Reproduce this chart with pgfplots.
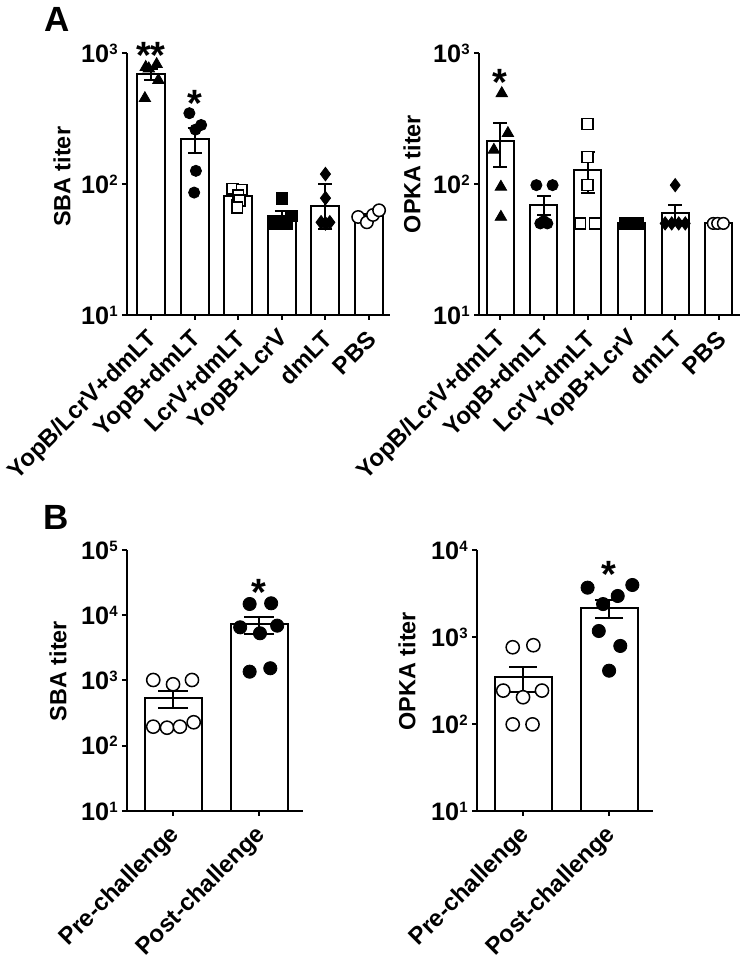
\documentclass[border=0pt]{standalone}
\usepackage{pgfplots}
\pgfplotsset{compat=1.18}
\usepackage{fontspec}
\setmainfont{Liberation Sans}
\newcommand\tpw[1]{10\raisebox{4pt}{\fontsize{7.5}{7.5}\selectfont\bfseries #1}}
\pgfplotsset{
  every axis/.append style={
    scale only axis,
    axis lines=left,
    axis line style={-, line width=1pt, black},
    tick style={line width=1pt, black},
    major tick length=2.5pt,
    tick align=outside,
    yminorticks=false,
    clip=false,
    yticklabel style={font=\fontsize{12.6}{14}\selectfont\bfseries, inner sep=1pt, xshift=-1pt},
    xticklabel style={xshift=2.2pt, yshift=-6.8pt, rotate=45, anchor=east, font=\fontsize{12}{13}\selectfont\bfseries, inner sep=1pt},
    ylabel style={font=\fontsize{11.7}{14}\selectfont\bfseries, anchor=center},
  },
}
\tikzset{
  bars/.style={ybar, fill=white, draw=black, line width=1pt},
  fm/.style={only marks, mark options={fill=black, draw=black, solid}},
  om/.style={only marks, mark options={fill=white, draw=black, line width=0.75pt, solid}},
  star/.style={font=\fontsize{19}{19}\selectfont\bfseries, anchor=base, inner sep=0pt, yshift=-11pt},
}
\newcommand\errplot[2]{\addplot[draw=none, mark=none, forget plot,
    error bars/y dir=both, error bars/y explicit,
    error bars/error bar style={draw=black, line width=1pt, solid},
    error bars/error mark options={rotate=90, mark size=#1, line width=1pt, draw=black}]
    coordinates {#2};}
\begin{document}
\begin{tikzpicture}[x=1pt,y=1pt]
\path[use as bounding box] (0,0) rectangle (372.5,480);
\node[font=\fontsize{17.5}{18}\selectfont\bfseries, inner sep=0pt] at (28.75,470.25) {A};
\node[font=\fontsize{17.5}{18}\selectfont\bfseries, inner sep=0pt] at (28.25,221.25) {B};

% ---------------- A left: SBA
\begin{axis}[ymode=log, log origin=infty, at={(63.5pt,322.5pt)}, anchor=south west,
  width=131.5pt, height=131pt, xmin=-0.55, xmax=5.48, ymin=10, ymax=1000,
  ytick={10,100,1000}, yticklabels={\tpw{1},\tpw{2},\tpw{3}},
  xtick={0,1,2,3,4,5},
  xticklabels={YopB/LcrV+dmLT,YopB+dmLT,LcrV+dmLT,YopB+LcrV,dmLT,PBS},
  ylabel={SBA titer}, ylabel style={at={(axis description cs:-0.247,0.527)}}]
\addplot[bars, bar width=14pt] coordinates {(0,686) (1,220) (2,81) (3,57) (4,68) (5,57)};
\addplot[fm, mark=triangle*, mark size=3.3pt] coordinates {(-0.12,780) (-0.05,760) (0.13,820) (0.17,620) (-0.14,451)};
\addplot[fm, mark=*, mark size=2.8pt] coordinates {(0.88,347) (1.15,282) (1.02,260) (1.03,126) (0.99,86)};
\addplot[om, mark=square*, mark size=2.7pt] coordinates {(1.87,92) (2.08,90) (2.0,82) (2.03,75) (1.98,66)};
\addplot[fm, mark=square*, mark size=2.9pt] coordinates {(3.0,78) (3.22,57) (2.8,50) (2.95,50) (3.1,50)};
\addplot[fm, mark=diamond*, mark size=3.4pt] coordinates {(4,119) (4,78) (3.9,51) (4.1,51) (4,50)};
\addplot[om, mark=*, mark size=3.1pt] coordinates {(4.75,56) (4.95,51) (5.09,58) (5.23,63)};
\errplot{3.5pt}{(0,686) +- (0,68) (1,220) +- (0,47) (2,81) +- (0,5) (3,57) +- (0,5.5) (4,68) += (0,32) -= (0,23) (5,57) +- (0,1.5)}
\node[star] at (axis cs:0,1117) {**};
\node[star] at (axis cs:1,478) {*};
\end{axis}

% ---------------- A right: OPKA
\begin{axis}[ymode=log, log origin=infty, at={(239.5pt,322.5pt)}, anchor=south west,
  width=130.5pt, height=131pt, xmin=-0.48, xmax=5.48, ymin=10, ymax=1000,
  ytick={10,100,1000}, yticklabels={\tpw{1},\tpw{2},\tpw{3}},
  xtick={0,1,2,3,4,5},
  xticklabels={YopB/LcrV+dmLT,YopB+dmLT,LcrV+dmLT,YopB+LcrV,dmLT,PBS},
  ylabel={OPKA titer}, ylabel style={at={(axis description cs:-0.257,0.538)}}]
\addplot[bars, bar width=13.5pt] coordinates {(0,214) (1,69.6) (2,129) (3,50) (4,59.6) (5,50)};
\addplot[fm, mark=triangle*, mark size=3.3pt] coordinates {(0.04,492) (0.18,244) (-0.14,182) (0.02,95) (0.02,56)};
\addplot[fm, mark=*, mark size=2.8pt] coordinates {(0.83,98) (1.2,98) (0.92,50) (1.0,52) (1.08,50)};
\addplot[om, mark=square*, mark size=2.7pt] coordinates {(2,287) (2,161) (2,98) (1.83,50) (2.17,50)};
\addplot[fm, mark=square*, mark size=2.9pt] coordinates {(2.86,50) (2.93,50) (3.0,50) (3.07,50) (3.14,50)};
\addplot[fm, mark=diamond*, mark size=3.3pt] coordinates {(4,98) (3.77,50) (3.92,50) (4.08,50) (4.23,50)};
\addplot[om, mark=*, mark size=2.9pt] coordinates {(4.87,50) (4.97,50) (5.1,50)};
\errplot{3.5pt}{(0,214) +- (0,79) (1,69.6) +- (0,11.6) (2,129) += (0,46) -= (0,43) (3,50) +- (0,0) (4,59.6) +- (0,9.6) (5,50) +- (0,0)}
\node[star] at (axis cs:0,700) {*};
\end{axis}

% ---------------- B left: SBA
\begin{axis}[ymode=log, log origin=infty, at={(63.5pt,74.5pt)}, anchor=south west,
  width=88pt, height=130.5pt, xmin=-0.535, xmax=1.51, ymin=10, ymax=100000,
  ytick={10,100,1000,10000,100000}, yticklabels={\tpw{1},\tpw{2},\tpw{3},\tpw{4},\tpw{5}},
  xtick={0,1}, xticklabels={Pre-challenge,Post-challenge},
  ylabel={SBA titer}, ylabel style={at={(axis description cs:-0.392,0.536)}}]
\addplot[bars, bar width=28.5pt] coordinates {(0,532) (1,7300)};
\addplot[om, mark=*, mark size=3.3pt] coordinates {(-0.23,1018) (0.0,875) (0.22,1018) (-0.23,196) (-0.07,189) (0.08,196) (0.24,229)};
\addplot[fm, mark=*, mark size=3.3pt] coordinates {(0.89,14860) (1.14,15240) (0.78,6530) (1.01,5290) (1.21,6920) (0.89,1365) (1.13,1540)};
\errplot{7.5pt}{(0,532) +- (0,155) (1,7300) +- (0,2100)}
\node[star] at (axis cs:1,30800) {*};
\end{axis}

% ---------------- B right: OPKA
\begin{axis}[ymode=log, log origin=infty, at={(238.5pt,74.5pt)}, anchor=south west,
  width=88pt, height=130.5pt, xmin=-0.535, xmax=1.51, ymin=10, ymax=10000,
  ytick={10,100,1000,10000}, yticklabels={\tpw{1},\tpw{2},\tpw{3},\tpw{4}},
  xtick={0,1}, xticklabels={Pre-challenge,Post-challenge},
  ylabel={OPKA titer}, ylabel style={at={(axis description cs:-0.398,0.536)}}]
\addplot[bars, bar width=28.5pt] coordinates {(0,345) (1,2150)};
\addplot[om, mark=*, mark size=3.3pt] coordinates {(-0.12,762) (0.12,804) (-0.23,242) (0.22,242) (0.0,203) (-0.12,99) (0.11,99)};
\addplot[fm, mark=*, mark size=3.3pt] coordinates {(0.75,3690) (1.27,3960) (1.1,2960) (0.93,2390) (0.88,1172) (1.13,789) (1.0,410)};
\errplot{7pt}{(0,345) +- (0,112) (1,2150) +- (0,500)}
\node[star] at (axis cs:1,6550) {*};
\end{axis}
\end{tikzpicture}
\end{document}
